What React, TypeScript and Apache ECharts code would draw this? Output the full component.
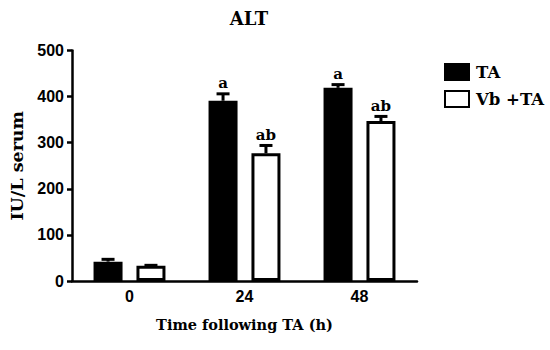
import React, { useEffect, useRef } from "react";
import * as echarts from "echarts";

const categories = ["0", "24", "48"];
const taValues = [42, 391, 419];
const taErrors = [5, 15, 7];
const vbValues = [33, 277, 347];
const vbErrors = [1, 17, 10];
const taLetters = ["", "a", "a"];
const vbLetters = ["", "ab", "ab"];
const yTicks = { min: 0, max: 500, interval: 100 };

const BAR_W = 29;
const GAP = 0.48;
const SERIF = "'DejaVu Serif', 'Liberation Serif', serif";
const SANS = "'Liberation Sans', Arial, sans-serif";

function errorSeries(values: number[], errors: number[], letters: string[], side: number) {
  return {
    type: "custom",
    z: 5,
    data: values.map((v, i) => [i, v, errors[i]]),
    renderItem: (params: any, api: any) => {
      const idx = api.value(0);
      const v = api.value(1);
      const e = api.value(2);
      const letter = letters[idx];
      const base = api.coord([idx, v]);
      const top = api.coord([idx, v + e]);
      const x = base[0] + side * (BAR_W * (1 + GAP)) / 2;
      const children: any[] = [
        {
          type: "line",
          shape: { x1: x, y1: base[1], x2: x, y2: top[1] },
          style: { stroke: "#000", lineWidth: 3 },
        },
        {
          type: "line",
          shape: { x1: x - 6.5, y1: top[1], x2: x + 6.5, y2: top[1] },
          style: { stroke: "#000", lineWidth: 3 },
        },
      ];
      if (letter) {
        children.push({
          type: "text",
          style: {
            text: letter,
            x,
            y: top[1] - 3,
            align: "center",
            verticalAlign: "bottom",
            font: `bold 15px ${SERIF}`,
            fill: "#000",
          },
        });
      }
      return { type: "group", children };
    },
  };
}

export default function App() {
  const ref = useRef<HTMLDivElement>(null);
  useEffect(() => {
    if (!ref.current) return;
    const chart = echarts.init(ref.current, undefined, { renderer: "svg" });
    chart.setOption({
      animation: false,
      backgroundColor: "#fff",
      title: {
        text: "ALT",
        left: 244,
        textAlign: "center",
        top: 4,
        textStyle: { fontFamily: SERIF, fontWeight: "bold", fontSize: 18, color: "#000" },
      },
      legend: {
        orient: "vertical",
        left: 439,
        top: 58,
        icon: "rect",
        itemWidth: 24,
        itemHeight: 16,
        itemGap: 9,
        textStyle: { fontFamily: SERIF, fontWeight: "bold", fontSize: 16.5, color: "#000", padding: [0, 0, 0, 2] },
        data: ["TA", "Vb +TA"],
      },
      grid: { left: 71, right: 133, top: 50.5, bottom: 69 },
      xAxis: {
        type: "category",
        data: categories,
        boundaryGap: true,
        axisLine: { lineStyle: { color: "#000", width: 2.5 } },
        axisTick: { alignWithLabel: true, length: 5, lineStyle: { color: "#000", width: 2.5 } },
        axisLabel: { fontFamily: SANS, fontWeight: "bold", fontSize: 16, color: "#000", margin: 7 },
        name: "Time following TA (h)",
        nameLocation: "middle",
        nameGap: 36,
        nameTextStyle: { fontFamily: SERIF, fontWeight: "bold", fontSize: 14.5, color: "#000" },
      },
      yAxis: {
        type: "value",
        min: yTicks.min,
        max: yTicks.max,
        interval: yTicks.interval,
        splitLine: { show: false },
        axisLine: { show: true, lineStyle: { color: "#000", width: 2.5 } },
        axisTick: { show: true, length: 5, lineStyle: { color: "#000", width: 2.5 } },
        axisLabel: { fontFamily: SANS, fontWeight: "bold", fontSize: 16, color: "#000", margin: 8 },
        name: "IU/L serum",
        nameLocation: "middle",
        nameGap: 46,
        nameTextStyle: { fontFamily: SERIF, fontWeight: "bold", fontSize: 17.5, color: "#000" },
      },
      series: [
        {
          name: "TA",
          type: "bar",
          data: taValues,
          barWidth: BAR_W,
          barGap: `${GAP * 100}%`,
          itemStyle: { color: "#000", borderColor: "#000", borderWidth: 3 },
        },
        {
          name: "Vb +TA",
          type: "bar",
          data: vbValues,
          barWidth: BAR_W,
          barGap: `${GAP * 100}%`,
          itemStyle: { color: "#fff", borderColor: "#000", borderWidth: 3 },
        },
        errorSeries(taValues, taErrors, taLetters, -1),
        errorSeries(vbValues, vbErrors, vbLetters, 1),
      ],
    });
    return () => chart.dispose();
  }, []);
  return (
    <div
      ref={ref}
      style={{ position: "absolute", left: 0, top: 0, width: 550, height: 350 }}
    />
  );
}
